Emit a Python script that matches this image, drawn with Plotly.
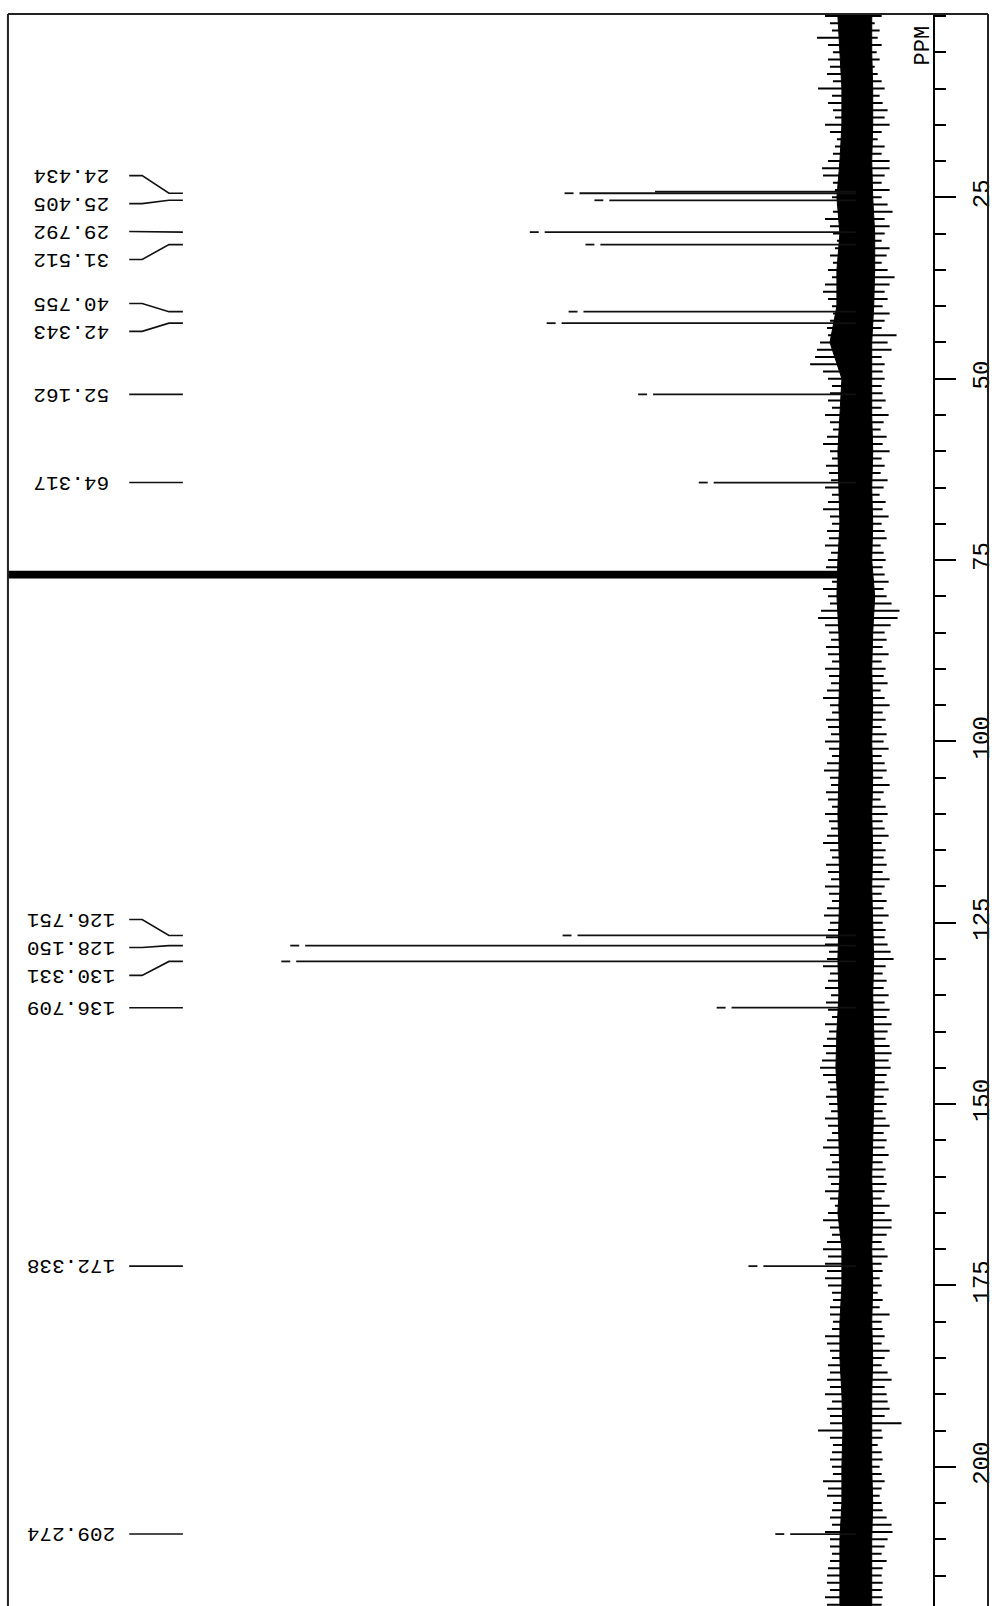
import plotly.graph_objects as go

# ---------------- data (13C NMR spectrum, chemical shift in ppm, intensity in a.u.) ----------------
peak_ppm = [24.434, 25.405, 29.792, 31.512, 40.755, 42.343, 52.162, 64.317,
            126.751, 128.150, 130.331, 136.709, 172.338, 209.274]
peak_int = [278, 248, 313, 257, 274, 296, 204, 143,
            280, 554, 563, 125, 93, 66]
peak_labels = ["24.434", "25.405", "29.792", "31.512", "40.755", "42.343", "52.162", "64.317",
               "126.751", "128.150", "130.331", "136.709", "172.338", "209.274"]

shoulder_ppm = [24.20]
shoulder_int = [202]

solvent_ppm = [76.68, 77.00, 77.32]       # CDCl3 triplet (off scale)
solvent_int = [2000, 2000, 2000]

# baseline noise: spike extents read every 1 ppm (left = positive, right = negative)
noise_ppm = list(range(0, 220))
noise_left = [
    31, 26, 24, 39, 28, 23, 28, 26, 29, 23, 38, 24, 28, 23, 21, 31, 26, 19, 21, 23,
    28, 34, 33, 23, 21, 24, 19, 23, 31, 26, 23, 19, 21, 26, 23, 28, 24, 31, 33, 28,
    24, 23, 26, 29, 28, 36, 39, 41, 46, 33, 28, 24, 26, 28, 24, 31, 26, 23, 29, 33,
    26, 24, 30, 27, 25, 31, 24, 28, 33, 26, 24, 29, 27, 31, 25, 28, 30, 30, 24, 33,
    28, 26, 35, 38, 31, 27, 25, 30, 28, 24, 31, 27, 25, 29, 33, 26, 24, 30, 28, 25,
    31, 27, 24, 29, 32, 26, 25, 30, 28, 24, 31, 27, 25, 29, 33, 26, 24, 30, 28, 25,
    31, 27, 24, 29, 32, 26, 28, 30, 31, 27, 29, 33, 26, 28, 31, 25, 30, 28, 24, 31,
    27, 29, 33, 30, 34, 36, 33, 28, 26, 30, 27, 25, 31, 28, 24, 29, 33, 26, 24, 30,
    28, 25, 31, 26, 21, 28, 33, 26, 24, 29, 33, 28, 31, 29, 31, 28, 24, 23, 26, 26,
    23, 24, 31, 29, 26, 24, 28, 26, 29, 26, 31, 24, 29, 26, 26, 38, 26, 23, 24, 26,
    24, 23, 33, 28, 29, 23, 24, 26, 24, 31, 26, 26, 24, 26, 28, 29, 29, 26, 31, 29,
]
noise_right = [
    -26, -19, -24, -22, -26, -21, -24, -19, -22, -26, -29, -24, -27, -32, -29, -34, -26, -22, -29, -26,
    -34, -34, -29, -26, -34, -26, -32, -37, -29, -34, -29, -26, -34, -31, -26, -32, -39, -34, -29, -32,
    -27, -34, -29, -26, -41, -32, -36, -26, -29, -27, -29, -26, -27, -30, -26, -33, -28, -25, -31, -27,
    -34, -26, -29, -25, -32, -28, -24, -30, -27, -33, -26, -29, -31, -25, -28, -30, -27, -29, -33, -28,
    -31, -36, -44, -42, -35, -29, -31, -27, -33, -26, -30, -28, -32, -25, -29, -34, -27, -30, -26, -31,
    -28, -33, -26, -29, -31, -27, -34, -28, -25, -30, -32, -27, -29, -33, -26, -30, -28, -31, -27, -34,
    -29, -26, -31, -28, -33, -27, -30, -29, -32, -35, -38, -30, -27, -31, -28, -33, -29, -34, -31, -36,
    -32, -30, -34, -36, -33, -35, -31, -29, -33, -28, -31, -27, -30, -34, -28, -31, -29, -33, -27, -30,
    -28, -31, -29, -26, -34, -29, -36, -36, -31, -26, -29, -32, -26, -27, -24, -26, -22, -27, -24, -34,
    -26, -27, -29, -26, -34, -29, -26, -32, -36, -29, -31, -32, -34, -29, -46, -26, -27, -22, -26, -27,
    -24, -26, -29, -26, -24, -26, -27, -31, -36, -37, -32, -29, -26, -31, -27, -26, -27, -26, -27, -26,
]

# dense noise core, read every 5 ppm
core_ppm = list(range(0, 225, 5))
core_left = [18, 16, 14, 14, 16, 19, 16, 19, 19, 26, 14, 16, 18, 17, 16, 18, 19, 17, 16, 17,
             16, 17, 18, 17, 16, 17, 18, 17, 19, 20, 18, 17, 16, 18, 14, 14, 16, 16, 14, 13,
             14, 14, 16, 16, 16]
core_right = [-16, -16, -17, -17, -16, -17, -19, -19, -18, -16, -16, -16, -17, -16, -17, -16, -19, -17, -16, -17,
              -16, -17, -16, -17, -16, -17, -18, -17, -18, -19, -18, -17, -16, -17, -16, -17, -16, -17, -16, -16,
              -16, -17, -16, -16, -16]

tick_vals = [25, 50, 75, 100, 125, 150, 175, 200]
tick_text = ["25", "50", "75", "100", "125", "150", "175", "200"]

# ---------------- layout constants ----------------
W, H = 996, 1606
BASE_PX = 861          # pixel column of the baseline
LEFT_PX = 8            # left frame
TOP_PX = 14            # top frame
RIGHT_PX = 994
AXIS_PX = 940
PX_PER_PPM = 7.254
PPM0_PX = 16

y_top = (TOP_PX - PPM0_PX) / PX_PER_PPM
y_bot = (H - PPM0_PX) / PX_PER_PPM
x_left = BASE_PX - LEFT_PX
x_right = BASE_PX - W

LINE = "#111111"

fig = go.Figure()

# noise core
cx = list(core_left) + list(core_right)[::-1]
cy = list(core_ppm) + list(core_ppm)[::-1]
fig.add_trace(go.Scatter(x=cx, y=cy, mode="lines", fill="toself", fillcolor="black",
                         line=dict(color="black", width=1), hoverinfo="skip", showlegend=False))

# noise spikes
sx, sy = [], []
for p, l, r in zip(noise_ppm, noise_left, noise_right):
    sx += [l, r, None]
    sy += [p, p, None]
fig.add_trace(go.Scatter(x=sx, y=sy, mode="lines", line=dict(color="black", width=2),
                         hoverinfo="skip", showlegend=False))

# peaks
px_, py_ = [], []
for p, h in zip(peak_ppm + shoulder_ppm, peak_int + shoulder_int):
    px_ += [0, h, None]
    py_ += [p, p, None]
fig.add_trace(go.Scatter(x=px_, y=py_, mode="lines", line=dict(color=LINE, width=1.8),
                         hoverinfo="skip", showlegend=False))
sv_x, sv_y = [], []
for p, h in zip(solvent_ppm, solvent_int):
    sv_x += [0, h, None]
    sv_y += [p, p, None]
fig.add_trace(go.Scatter(x=sv_x, y=sv_y, mode="lines", line=dict(color="black", width=3),
                         hoverinfo="skip", showlegend=False))

# peak-top markers
mx, my = [], []
for p, h in zip(peak_ppm, peak_int):
    mx += [h + 6, h + 15, None]
    my += [p, p, None]
fig.add_trace(go.Scatter(x=mx, y=my, mode="lines", line=dict(color=LINE, width=1.8),
                         hoverinfo="skip", showlegend=False))

# label slots: spread overlapping labels, keep clusters centred on their peaks
SPACING = 3.85
groups = [[i] for i in range(len(peak_ppm))]
changed = True
while changed:
    changed = False
    pos = []
    for g in groups:
        c = sum(peak_ppm[i] for i in g) / len(g)
        start = c - SPACING * (len(g) - 1) / 2
        pos.append((start, start + SPACING * (len(g) - 1)))
    for k in range(len(groups) - 1):
        if pos[k + 1][0] - pos[k][1] < SPACING:
            groups[k] = groups[k] + groups[k + 1]
            del groups[k + 1]
            changed = True
            break
label_ppm = [0.0] * len(peak_ppm)
for g in groups:
    c = sum(peak_ppm[i] for i in g) / len(g)
    start = c - SPACING * (len(g) - 1) / 2
    for j, i in enumerate(g):
        label_ppm[i] = start + SPACING * j

# connectors
kx, ky = [], []
for p, lp in zip(peak_ppm, label_ppm):
    kx += [BASE_PX - 130, BASE_PX - 143, BASE_PX - 170, BASE_PX - 184, None]
    ky += [lp, lp, p, p, None]
fig.add_trace(go.Scatter(x=kx, y=ky, mode="lines", line=dict(color=LINE, width=1.6),
                         hoverinfo="skip", showlegend=False))

MONO = "Liberation Mono"
for lab, lp in zip(peak_labels, label_ppm):
    fig.add_annotation(x=72 / W, xref="paper", y=lp, yref="y", text=lab, showarrow=False,
                       textangle=180, xanchor="center", yanchor="middle",
                       font=dict(family=MONO, size=21, color="black"))

fig.add_annotation(x=929 / W, xref="paper", y=(45 - PPM0_PX) / PX_PER_PPM, yref="y", text="PPM",
                   showarrow=False, textangle=-90, xanchor="center", yanchor="middle",
                   font=dict(family=MONO, size=22, color="black"))

# frame
fy_top = 1 - TOP_PX / H
for x0, y0, x1, y1 in [(LEFT_PX / W, 0, LEFT_PX / W, fy_top),
                       (LEFT_PX / W, fy_top, RIGHT_PX / W, fy_top),
                       (RIGHT_PX / W, 0, RIGHT_PX / W, fy_top)]:
    fig.add_shape(type="line", xref="paper", yref="paper", x0=x0, y0=y0, x1=x1, y1=y1,
                  line=dict(color="#222222", width=2))

fig.update_layout(
    width=W, height=H, margin=dict(l=0, r=0, t=0, b=0),
    paper_bgcolor="white", plot_bgcolor="white", showlegend=False,
    xaxis=dict(domain=[LEFT_PX / W, 1], range=[x_left, x_right], showgrid=False, zeroline=False,
               showticklabels=False, ticks="", showline=False),
    yaxis=dict(domain=[0, fy_top], range=[y_bot, y_top], anchor="free", position=AXIS_PX / W,
               side="right", showline=True, linecolor="black", linewidth=2, showgrid=False,
               zeroline=False, tickmode="array", tickvals=tick_vals, ticktext=tick_text,
               ticks="outside", ticklen=21, tickwidth=2, tickcolor="black", tickangle=-90,
               tickfont=dict(family=MONO, size=24, color="black"), ticklabelstandoff=4,
               minor=dict(tickmode="linear", tick0=0, dtick=5, ticks="outside", ticklen=11,
                          tickwidth=2, tickcolor="black", showgrid=False)),
)

fig.write_html("out.html", config={"displayModeBar": False},
               post_script="document.body.style.margin='0';")
